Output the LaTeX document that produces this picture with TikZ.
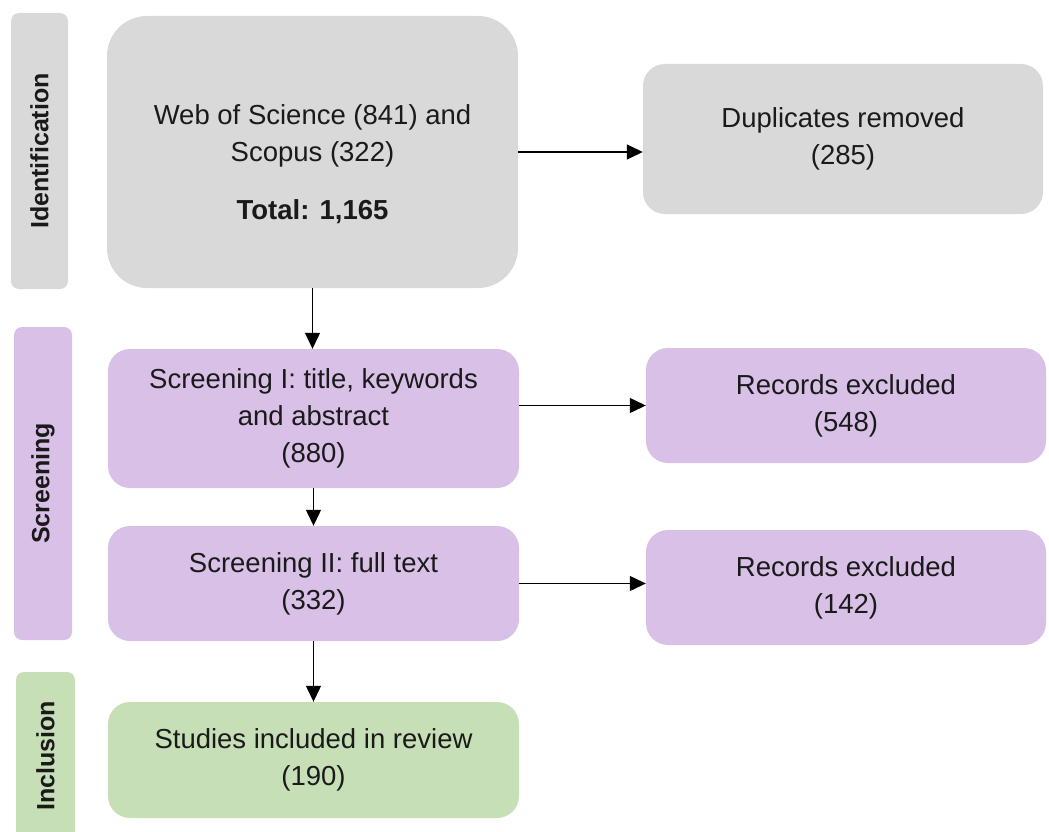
\documentclass[tikz,border=0pt]{standalone}
\usepackage{fontspec}
\setmainfont{Liberation Sans}
\usetikzlibrary{arrows.meta}
\definecolor{gbox}{HTML}{D9D9D9}
\definecolor{pbox}{HTML}{D8C0E6}
\definecolor{grbox}{HTML}{C6DFB6}
\definecolor{txt}{HTML}{1A1A1A}
\begin{document}
\begin{tikzpicture}[x=1pt,y=-1pt,
  flowbox/.style={rounded corners=22pt, inner sep=0pt, align=center, text=txt,
    font=\fontsize{27.5}{37}\selectfont},
  phasebar/.style={rounded corners=8pt, inner sep=0pt, rotate=90, text=txt,
    font=\bfseries\fontsize{25}{28}\selectfont},
  flowarrow/.style={line width=1.2pt, -{Triangle[length=16pt,width=15pt]}}]
\useasboundingbox (0,0) rectangle (1049,832);
\begin{scope}
\clip (0,0) rectangle (1049,832);
% phase bars
\node[phasebar, fill=gbox, minimum width=276pt, minimum height=57pt] (bar1) at (39.5,151) {Identification};
\node[phasebar, fill=pbox, minimum width=313pt, minimum height=58pt] (bar2) at (43,483.5) {Screening};
\node[phasebar, fill=grbox, minimum width=168pt, minimum height=59pt] (bar3) at (45.5,756) {Inclusion};
\end{scope}
% boxes
\node[flowbox, rounded corners=40pt, fill=gbox, minimum width=411pt, minimum height=272pt] (big) at (312.5,152) {};
\node[align=center, text=txt, font=\fontsize{27.5}{37}\selectfont, inner sep=0pt] (bigtext) at (312.5,164.5)
  {Web of Science (841) and\\Scopus (322)\\[21pt]\textbf{Total: 1,165}};
\node[flowbox, fill=gbox, minimum width=400pt, minimum height=150pt] (dup) at (843,139) {Duplicates removed\\(285)};
\node[flowbox, fill=pbox, minimum width=411pt, minimum height=139pt] (s1) at (313.5,418.5) {Screening I: title, keywords\\and abstract\\(880)};
\node[flowbox, fill=pbox, minimum width=400pt, minimum height=115pt] (rec1) at (846,405.5) {Records excluded\\(548)};
\node[flowbox, fill=pbox, minimum width=411pt, minimum height=115pt] (s2) at (313.5,583.5) {Screening II: full text\\(332)};
\node[flowbox, fill=pbox, minimum width=400pt, minimum height=115pt] (rec2) at (846,587.5) {Records excluded\\(142)};
\node[flowbox, fill=grbox, minimum width=411pt, minimum height=116pt] (inc) at (313.5,760) {Studies included in review\\(190)};
% arrows
\draw[flowarrow] (big.east) -- (big.east -| dup.west);
\draw[flowarrow] (big.south) -- (big.south |- s1.north);
\draw[flowarrow] (s1.east |- rec1.west) -- (rec1.west);
\draw[flowarrow] (s1.south) -- (s2.north);
\draw[flowarrow] (s2.east) -- (s2.east -| rec2.west);
\draw[flowarrow] (s2.south) -- (inc.north);
\end{tikzpicture}
\end{document}
